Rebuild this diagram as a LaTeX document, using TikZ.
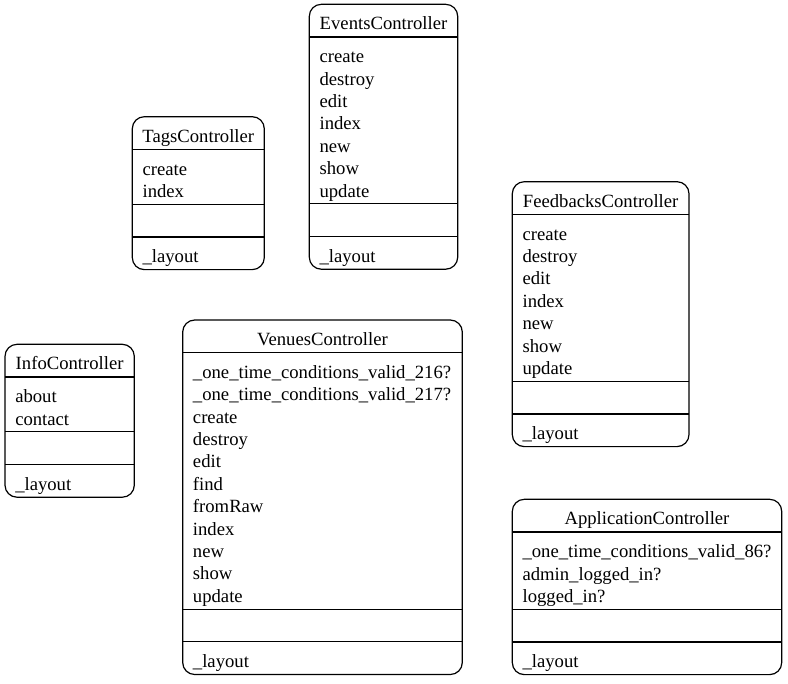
\documentclass[tikz,border=0pt]{standalone}
\usepackage{fontspec}
\setmainfont{Liberation Serif}
\usetikzlibrary{positioning}
\tikzset{
  cbox/.style={draw,line width=0.9pt,rounded corners=9pt},
  csep/.style={draw,line width=0.9pt},
  ctitle/.style={anchor=base,inner sep=0pt,font=\fontsize{14}{16.8}\selectfont},
  cfield/.style={anchor=base west,inner sep=0pt,font=\fontsize{14}{16.8}\selectfont},
}
\def\rowh{32.7}\def\lineh{22.4}\def\fpad{5}\def\basel{20.6}

% id, left x, top y, width, title, method count, methods
\newcommand{\ctrlbox}[7]{%
  \pgfmathsetmacro{\ya}{#3+\rowh}
  \pgfmathsetmacro{\yb}{\ya+#6*\lineh+2*\fpad}
  \pgfmathsetmacro{\yc}{\yb+\rowh}
  \pgfmathsetmacro{\yd}{\yc+\rowh}
  \draw[cbox] (#2,#3) rectangle ({#2+#4},\yd);
  \draw[csep] (#2,\ya) -- ++(#4,0) (#2,\yb) -- ++(#4,0) (#2,\yc) -- ++(#4,0);
  \node[ctitle] (#1) at ({#2+#4/2},{#3+\fpad+\basel}) {#5};
  \foreach \m [count=\i from 0] in {#7}
    \node[cfield] (#1-m\i) at ({#2+10},{\ya+\fpad+\basel+\i*\lineh}) {\m};
  \node[cfield] (#1-layout) at ({#2+10},{\yc+\fpad+\basel}) {\_layout};
}

\begin{document}
\begin{tikzpicture}[x=0.75pt,y=-0.75pt]
  \useasboundingbox (0,0) rectangle (788,683);
  % top row
  \ctrlbox{tags}{132.3}{116.7}{132}{TagsController}{2}{create,index}
  \ctrlbox{events}{309.3}{4.3}{148.4}{EventsController}{7}{create,destroy,edit,index,new,show,update}
  \ctrlbox{feedbacks}{512.3}{181.7}{176.7}{FeedbacksController}{7}{create,destroy,edit,index,new,show,update}
  % bottom row
  \ctrlbox{info}{5}{344.3}{129.3}{InfoController}{2}{about,contact}
  \ctrlbox{venues}{182.7}{320}{279.6}{VenuesController}{11}{\_one\_time\_conditions\_valid\_216?,\_one\_time\_conditions\_valid\_217?,create,destroy,edit,find,fromRaw,index,new,show,update}
  \ctrlbox{application}{512.3}{499.3}{269.4}{ApplicationController}{3}{\_one\_time\_conditions\_valid\_86?,admin\_logged\_in?,logged\_in?}
\end{tikzpicture}
\end{document}
